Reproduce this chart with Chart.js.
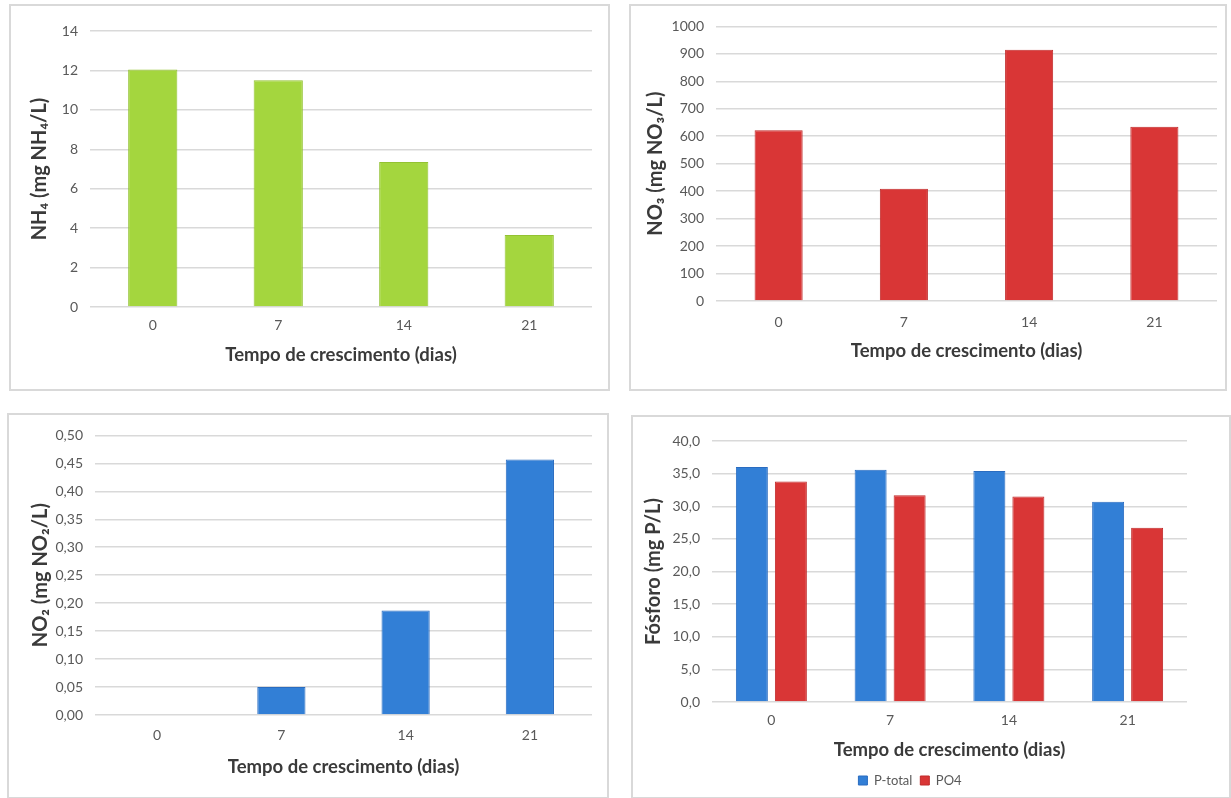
<!DOCTYPE html>
<html>
<head>
<meta charset="utf-8">
<script src="https://cdn.jsdelivr.net/npm/chart.js@4.4.1/dist/chart.umd.min.js"></script>
<style>
  body { margin: 0; width: 1231px; height: 798px; overflow: hidden; background: #fff; position: relative; }
  .panel { position: absolute; border: 2px solid #d9d9d9; box-sizing: border-box; }
  .panel canvas { display: block; }
</style>
</head>
<body>
<div class="panel" style="left:9px;top:4px;width:601px;height:387px"><canvas id="c1" width="597" height="383"></canvas></div>
<div class="panel" style="left:629px;top:4px;width:598px;height:387px"><canvas id="c2" width="594" height="383"></canvas></div>
<div class="panel" style="left:7px;top:413px;width:602px;height:386px"><canvas id="c3" width="598" height="382"></canvas></div>
<div class="panel" style="left:631px;top:415px;width:600px;height:384px"><canvas id="c4" width="596" height="380"></canvas></div>
<script>
// data
const days = ['0', '7', '14', '21'];
const nh4 = [12.05, 11.5, 7.35, 3.65];
const no3 = [622, 409, 915, 635];
const no2 = [0, 0.05, 0.187, 0.457];
const pTotal = [36.0, 35.6, 35.4, 30.7];
const po4 = [33.8, 31.7, 31.5, 26.7];

const xTitle = 'Tempo de crescimento (dias)';
const GREEN = '#a4d63e', RED = '#d93636', BLUE = '#327fd6';

Chart.defaults.font.family = 'Lato, "Open Sans", sans-serif';
Chart.defaults.color = '#595959';
Chart.defaults.animation = false;

const xTitleFont = { size: 18.5, weight: 'bold' };
const yTitleFont = { size: 20, weight: 'bold' };
const titleColor = '#3a3a3a';

// shared options for one panel
function panelOptions(o) {
  return {
    responsive: false,
    layout: { padding: { left: 0, top: o.top, right: o.right, bottom: 0 } },
    plugins: { legend: o.legend || { display: false }, tooltip: { enabled: false } },
    scales: {
      x: {
        grid: { display: false, drawTicks: false },
        border: { display: false },
        ticks: { padding: o.xTickPad, font: { size: 14 } },
        title: { display: true, text: xTitle, font: xTitleFont, color: titleColor, padding: { top: 0, bottom: o.xTitlePad } },
        afterFit: s => { s.height = o.xHeight; }
      },
      y: {
        min: 0, max: o.max,
        grid: { color: '#d9d9d9', lineWidth: 1.5, drawTicks: false },
        border: { display: false },
        ticks: { stepSize: o.step, padding: 12, font: { size: 14 }, callback: o.fmt },
        title: { display: true, text: o.yTitle, font: yTitleFont, color: titleColor, padding: { top: o.yTitlePad, bottom: 0 } },
        afterFit: s => { s.width = o.yWidth; }
      }
    }
  };
}

new Chart(document.getElementById('c1'), {
  type: 'bar',
  data: { labels: days, datasets: [{ data: nh4, backgroundColor: GREEN, borderColor: '#93c232', borderWidth: 1, categoryPercentage: 0.8, barPercentage: 0.49 }] },
  options: panelOptions({ top: 25, right: 16, xHeight: 82, xTickPad: 10, xTitlePad: 23, yWidth: 79, yTitlePad: 17,
    max: 14, step: 2, yTitle: 'NH₄ (mg NH₄/L)', fmt: v => v })
});

new Chart(document.getElementById('c2'), {
  type: 'bar',
  data: { labels: days, datasets: [{ data: no3, backgroundColor: RED, borderColor: '#c02a2a', borderWidth: 1, categoryPercentage: 0.8, barPercentage: 0.48 }] },
  options: panelOptions({ top: 18, right: 8, xHeight: 88, xTickPad: 13, xTitlePad: 27, yWidth: 85, yTitlePad: 13,
    max: 1000, step: 100, yTitle: 'NO₃ (mg NO₃/L)', fmt: v => v })
});

new Chart(document.getElementById('c3'), {
  type: 'bar',
  data: { labels: days, datasets: [{ data: no2, backgroundColor: BLUE, borderColor: '#2a6cc0', borderWidth: 1, categoryPercentage: 0.8, barPercentage: 0.485 }] },
  options: panelOptions({ top: 19, right: 15, xHeight: 82, xTickPad: 12, xTitlePad: 19, yWidth: 86, yTitlePad: 20,
    max: 0.5, step: 0.05, yTitle: 'NO₂ (mg NO₂/L)', fmt: v => v.toFixed(2).replace('.', ',') })
});

new Chart(document.getElementById('c4'), {
  type: 'bar',
  data: { labels: days, datasets: [
    { label: 'P-total', data: pTotal, backgroundColor: BLUE, borderColor: '#2a6cc0', borderWidth: 1, categoryPercentage: 0.657, barPercentage: 0.82 },
    { label: 'PO4', data: po4, backgroundColor: RED, borderColor: '#c02a2a', borderWidth: 1, categoryPercentage: 0.657, barPercentage: 0.82 }
  ] },
  options: panelOptions({ top: 24, right: 42, xHeight: 64, xTickPad: 10, xTitlePad: 5, yWidth: 79, yTitlePad: 9,
    max: 40, step: 5, yTitle: 'Fósforo (mg P/L)', fmt: v => v.toFixed(1).replace('.', ','),
    legend: { display: true, position: 'bottom', labels: { boxWidth: 9, boxHeight: 9, padding: 8, font: { size: 13 }, color: '#595959' } } })
});
</script>
</body>
</html>
